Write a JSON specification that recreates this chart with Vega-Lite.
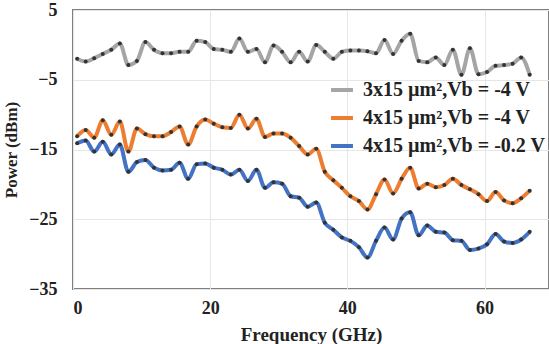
{
  "$schema": "https://vega.github.io/schema/vega-lite/v6.json",
  "width": 476,
  "height": 279,
  "autosize": {"type": "none"},
  "padding": {"left": 73, "top": 10, "right": 0, "bottom": 55},
  "background": "white",
  "config": {
    "view": {"stroke": "#808080", "strokeWidth": 2},
    "font": "Liberation Serif"
  },
  "data": {
    "values": [
      {"f": 0.60, "A": -2.0, "B": -13.1, "C": -14.1},
      {"f": 1.85, "A": -2.4, "B": -12.2, "C": -13.7},
      {"f": 3.09, "A": -1.9, "B": -13.3, "C": -15.3},
      {"f": 4.34, "A": -1.3, "B": -10.8, "C": -13.9},
      {"f": 5.58, "A": -0.7, "B": -12.9, "C": -15.7},
      {"f": 6.83, "A": 0.2, "B": -11.0, "C": -14.3},
      {"f": 8.07, "A": -2.9, "B": -15.3, "C": -18.2},
      {"f": 9.32, "A": -2.3, "B": -12.0, "C": -16.8},
      {"f": 10.56, "A": 0.4, "B": -12.8, "C": -16.5},
      {"f": 11.81, "A": -0.7, "B": -13.1, "C": -17.6},
      {"f": 13.05, "A": -1.2, "B": -13.1, "C": -18.0},
      {"f": 14.30, "A": -1.2, "B": -12.5, "C": -17.9},
      {"f": 15.54, "A": -1.0, "B": -11.7, "C": -16.9},
      {"f": 16.79, "A": -1.0, "B": -14.3, "C": -19.2},
      {"f": 18.03, "A": 0.6, "B": -11.7, "C": -17.1},
      {"f": 19.28, "A": 0.4, "B": -10.7, "C": -17.0},
      {"f": 20.52, "A": -0.6, "B": -11.3, "C": -17.6},
      {"f": 21.77, "A": -0.7, "B": -11.8, "C": -17.9},
      {"f": 23.01, "A": -1.0, "B": -11.9, "C": -18.6},
      {"f": 24.26, "A": 0.9, "B": -10.0, "C": -17.9},
      {"f": 25.50, "A": -1.0, "B": -12.0, "C": -19.5},
      {"f": 26.75, "A": -0.6, "B": -10.6, "C": -17.9},
      {"f": 27.99, "A": -2.5, "B": -13.2, "C": -20.5},
      {"f": 29.24, "A": -0.1, "B": -12.7, "C": -19.7},
      {"f": 30.48, "A": -1.0, "B": -12.7, "C": -19.9},
      {"f": 31.73, "A": -2.5, "B": -13.3, "C": -21.7},
      {"f": 32.97, "A": -1.0, "B": -14.5, "C": -21.9},
      {"f": 34.22, "A": -2.4, "B": -15.7, "C": -23.2},
      {"f": 35.46, "A": 0.0, "B": -14.9, "C": -22.6},
      {"f": 36.71, "A": -1.0, "B": -18.2, "C": -25.5},
      {"f": 37.95, "A": -2.0, "B": -19.4, "C": -26.5},
      {"f": 39.20, "A": -1.0, "B": -20.5, "C": -27.6},
      {"f": 40.44, "A": -0.8, "B": -21.7, "C": -28.1},
      {"f": 41.69, "A": -0.8, "B": -22.4, "C": -29.0},
      {"f": 42.93, "A": -0.9, "B": -23.6, "C": -30.5},
      {"f": 44.18, "A": -1.2, "B": -21.4, "C": -28.1},
      {"f": 45.42, "A": 0.7, "B": -19.3, "C": -26.2},
      {"f": 46.67, "A": -1.3, "B": -21.3, "C": -27.9},
      {"f": 47.91, "A": 0.6, "B": -19.2, "C": -24.9},
      {"f": 49.16, "A": 1.6, "B": -17.6, "C": -24.0},
      {"f": 50.40, "A": -2.3, "B": -20.6, "C": -27.3},
      {"f": 51.65, "A": -2.5, "B": -19.9, "C": -25.9},
      {"f": 52.89, "A": -1.8, "B": -20.4, "C": -26.8},
      {"f": 54.14, "A": -2.9, "B": -20.1, "C": -26.9},
      {"f": 55.38, "A": -0.7, "B": -19.2, "C": -28.0},
      {"f": 56.63, "A": -4.3, "B": -20.1, "C": -28.1},
      {"f": 57.87, "A": -0.5, "B": -20.7, "C": -29.4},
      {"f": 59.12, "A": -4.2, "B": -21.4, "C": -29.2},
      {"f": 60.36, "A": -3.9, "B": -22.4, "C": -28.6},
      {"f": 61.61, "A": -3.0, "B": -21.1, "C": -27.1},
      {"f": 62.85, "A": -2.9, "B": -22.3, "C": -28.2},
      {"f": 64.10, "A": -2.7, "B": -22.7, "C": -28.4},
      {"f": 65.34, "A": -1.8, "B": -22.0, "C": -27.9},
      {"f": 66.59, "A": -4.3, "B": -20.9, "C": -26.8}
    ]
  },
  "transform": [
    {"fold": ["A", "B", "C"], "as": ["series", "power"]}
  ],
  "encoding": {
    "x": {
      "field": "f",
      "type": "quantitative",
      "scale": {"domain": [0, 69.4], "nice": false, "zero": false},
      "axis": {
        "values": [0, 20, 40, 60],
        "title": "Frequency (GHz)",
        "titleFont": "Liberation Serif",
        "titleFontSize": 19,
        "titleFontWeight": "bold",
        "titleColor": "#222",
        "titlePadding": 8,
        "labelFont": "Liberation Serif",
        "labelFontSize": 18,
        "labelFontWeight": "bold",
        "labelColor": "#222",
        "labelPadding": 10,
        "ticks": false,
        "domain": false,
        "grid": true,
        "gridColor": "#e6e6e6",
        "gridWidth": 1
      }
    },
    "y": {
      "field": "power",
      "type": "quantitative",
      "scale": {"domain": [-35, 5], "nice": false, "zero": false},
      "axis": {
        "values": [-35, -25, -15, -5, 5],
        "title": "Power (dBm)",
        "titleFont": "Liberation Serif",
        "titleFontSize": 17,
        "titleFontWeight": "bold",
        "titleColor": "#222",
        "titlePadding": 8,
        "labelFont": "Liberation Serif",
        "labelFontSize": 18,
        "labelFontWeight": "bold",
        "labelColor": "#222",
        "labelPadding": 16,
        "ticks": false,
        "domain": false,
        "grid": true,
        "gridColor": "#e6e6e6",
        "gridWidth": 1
      }
    }
  },
  "layer": [
    {
      "mark": {"type": "line", "strokeWidth": 4, "interpolate": "monotone"},
      "encoding": {
        "color": {
          "field": "series",
          "type": "nominal",
          "scale": {"domain": ["A", "B", "C"], "range": ["#a5a5a5", "#ed7d31", "#4472c4"]},
          "legend": {
            "title": null,
            "orient": "none",
            "legendX": 256,
            "legendY": 67,
            "labelExpr": "datum.label == 'A' ? '3x15 µm²,Vb = -4 V' : datum.label == 'B' ? '4x15 µm²,Vb = -4 V' : '4x15 µm²,Vb = -0.2 V'",
            "labelFont": "Liberation Serif",
            "labelFontSize": 20,
            "labelFontWeight": "bold",
            "labelColor": "#222",
            "labelLimit": 300,
            "symbolType": "stroke",
            "symbolStrokeWidth": 4,
            "symbolSize": 480,
            "rowPadding": 5,
            "labelOffset": 8
          }
        }
      }
    },
    {
      "mark": {"type": "point", "filled": true, "size": 16, "color": "#333333", "opacity": 1},
      "encoding": {}
    }
  ]
}
